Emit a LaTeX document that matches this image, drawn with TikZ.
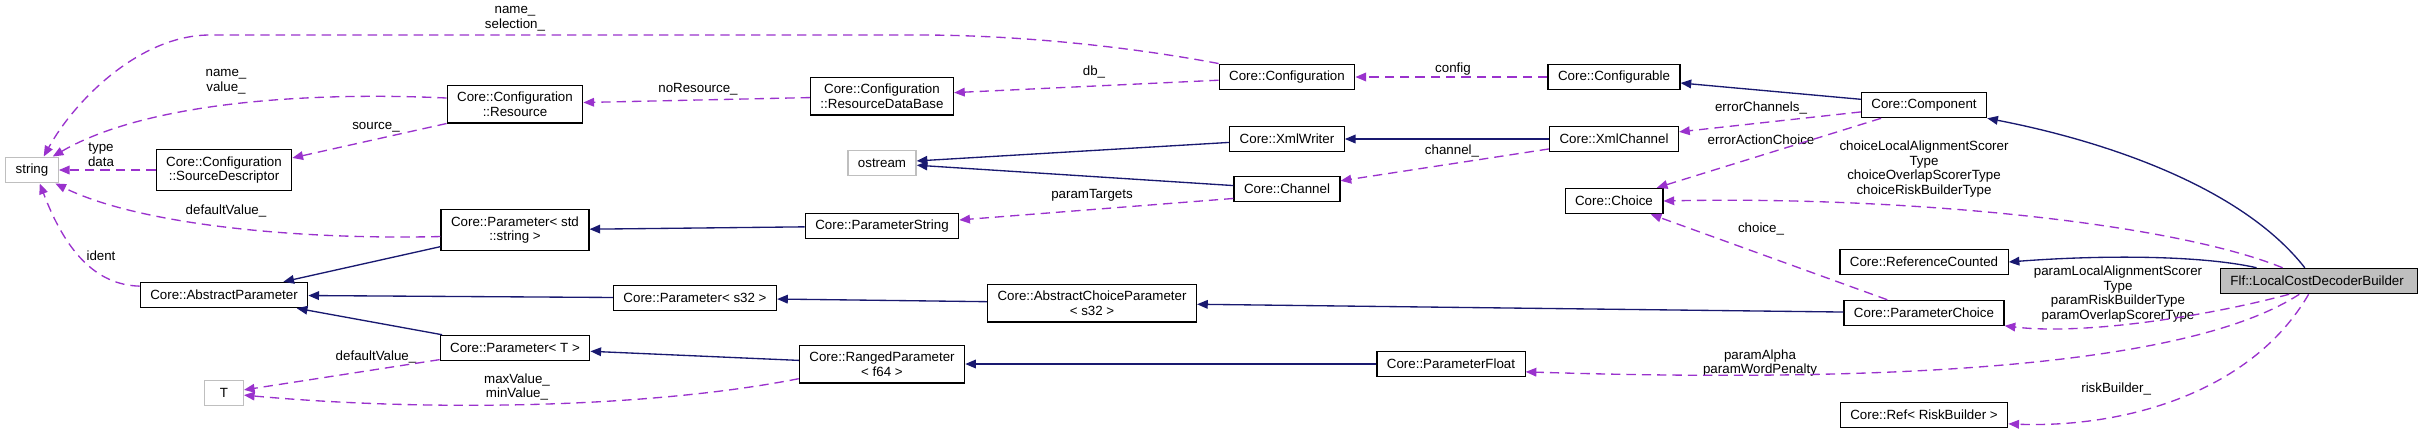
\documentclass[tikz,border=0pt]{standalone}
\usepackage{fontspec}
\setmainfont{Liberation Sans}
\usetikzlibrary{arrows.meta}
\definecolor{inhCol}{HTML}{191970}
\definecolor{useCol}{HTML}{9A32CD}
\definecolor{extCol}{HTML}{BFBFBF}

\begin{document}
\begin{tikzpicture}[x=0.75pt, y=-0.75pt,
    every node/.style={font=\fontsize{10}{11}\selectfont, align=center},
    cls/.style={draw=black, line width=0.9pt, inner xsep=7.5pt, inner ysep=5pt,
      minimum height=19pt, minimum width=29pt},
    ext/.style={cls, draw=extCol},
    main/.style={cls, fill=extCol},
    lbl/.style={inner sep=0pt},
    inh/.style={draw=inhCol, line width=1pt, -{Triangle[length=8pt,width=6.5pt]}},
    use/.style={draw=useCol, line width=1pt, dash pattern=on 7pt off 4.5pt,
      -{Triangle[length=8pt,width=6.5pt]}}]
  \useasboundingbox (0,0) rectangle (2425,433);

  % classes
  \foreach \nm/\st/\x/\y/\txt in {
    string/ext/32/170/string,
    SrcDesc/cls/224/170/{Core::Configuration\\::SourceDescriptor},
    AbsParam/cls/224/295/Core::AbstractParameter,
    T/ext/224/393/T,
    Resource/cls/515/104/{Core::Configuration\\::Resource},
    ParamStd/cls/515/230/{Core::Parameter< std\\::string >},
    ParamT/cls/515/348/{Core::Parameter< T >},
    ParamS32/cls/695/298/{Core::Parameter< s32 >},
    ResDB/cls/882/96/{Core::Configuration\\::ResourceDataBase},
    ostream/ext/882/163/ostream,
    ParamString/cls/882/226/Core::ParameterString,
    Ranged/cls/882/364/{Core::RangedParameter\\< f64 >},
    AbsChoice/cls/1092/303/{Core::AbstractChoiceParameter\\< s32 >},
    Configuration/cls/1287/77/Core::Configuration,
    XmlWriter/cls/1287/139/Core::XmlWriter,
    Channel/cls/1287/189/Core::Channel,
    ParamFloat/cls/1451/364/Core::ParameterFloat,
    Configurable/cls/1614/77/Core::Configurable,
    XmlChannel/cls/1614/139/Core::XmlChannel,
    Choice/cls/1614/201/Core::Choice,
    Component/cls/1924/105/Core::Component,
    RefCounted/cls/1924/262/Core::ReferenceCounted,
    ParamChoice/cls/1924/313/Core::ParameterChoice,
    RefRisk/cls/1924/415/{Core::Ref< RiskBuilder >},
    Flf/main/2319/281/Flf::LocalCostDecoderBuilder
  }{
    \node[\st] (\nm) at (\x,\y) {\txt};
  }

  % member labels
  \foreach \nm/\x/\y/\txt in {
    lNameSel/515/19/{name\_\\selection\_},
    lNameVal/226/82/{name\_\\value\_},
    lSource/376/127/source\_,
    lTypeData/101/155/{type\\data},
    lDefStr/226/211/defaultValue\_,
    lIdent/101/256/ident,
    lNoRes/698/89/noResource\_,
    lDb/1094/72/db\_,
    lConfig/1453/69/config,
    lChannel/1452/151/channel\_,
    lTargets/1092/195/paramTargets,
    lErrChan/1761/108/errorChannels\_,
    lErrAct/1761/140/errorActionChoice,
    lChoices/1924/169/{choiceLocalAlignmentScorer\\Type\\choiceOverlapScorerType\\choiceRiskBuilderType},
    lChoice/1761/229/choice\_,
    lParams/2118/294/{paramLocalAlignmentScorer\\Type\\paramRiskBuilderType\\paramOverlapScorerType},
    lAlpha/1760/363/{paramAlpha\\paramWordPenalty},
    lMinMax/517/387/{maxValue\_\\minValue\_},
    lDefT/376/357/defaultValue\_,
    lRisk/2118/389/riskBuilder\_
  }{
    \node[lbl] (\nm) at (\x,\y) {\txt};
  }

  % inheritance
  \foreach \a/\b in {Component/Configurable, XmlChannel/XmlWriter, XmlWriter/ostream,
      Channel/ostream, ParamString/ParamStd, ParamStd/AbsParam, ParamS32/AbsParam,
      ParamT/AbsParam, AbsChoice/ParamS32, ParamChoice/AbsChoice, Ranged/ParamT,
      ParamFloat/Ranged}
    \draw[inh] (\a) -- (\b);
  \draw[inh] (Flf.137) .. controls (2240,185) and (2100,140) .. (Component.south east);
  \draw[inh] (Flf.168) .. controls (2200,255) and (2100,255) .. (RefCounted.east);

  % usage
  \foreach \a/\b in {SrcDesc/string, ResDB/Resource, Configuration/ResDB,
      Configurable/Configuration, Component/XmlChannel, Component/Choice,
      XmlChannel/Channel, ParamChoice/Choice, ParamT/T}
    \draw[use] (\a) -- (\b);
  \draw[use] (Resource.south west) -- (SrcDesc.10);
  \draw[use] (Channel.190) -- (ParamString);
  \draw[use] (Configuration.north west) .. controls (1120,45) and (1010,35) .. (920,35)
    -- (210,35) .. controls (140,35) and (75,100) .. (string.49);
  \draw[use] (Resource.175) .. controls (320,92) and (150,100) .. (string.33);
  \draw[use] (ParamStd.185) .. controls (300,240) and (140,225) .. (string.-30);
  \draw[use] (AbsParam.174) .. controls (95,285) and (65,250) .. (string.-60);
  \draw[use] (Flf.160) .. controls (2170,222) and (1900,196) .. (Choice.east);
  \draw[use] (Flf.204) .. controls (2200,318) and (2080,335) .. (ParamChoice.-9);
  \draw[use] (Flf.214) .. controls (2180,372) and (1850,382) .. (ParamFloat.-6);
  \draw[use] (Flf.232) .. controls (2250,395) and (2120,428) .. (RefRisk.-6);
  \draw[use] (Ranged.190) .. controls (650,408) and (430,412) .. (T.-6);
\end{tikzpicture}
\end{document}
